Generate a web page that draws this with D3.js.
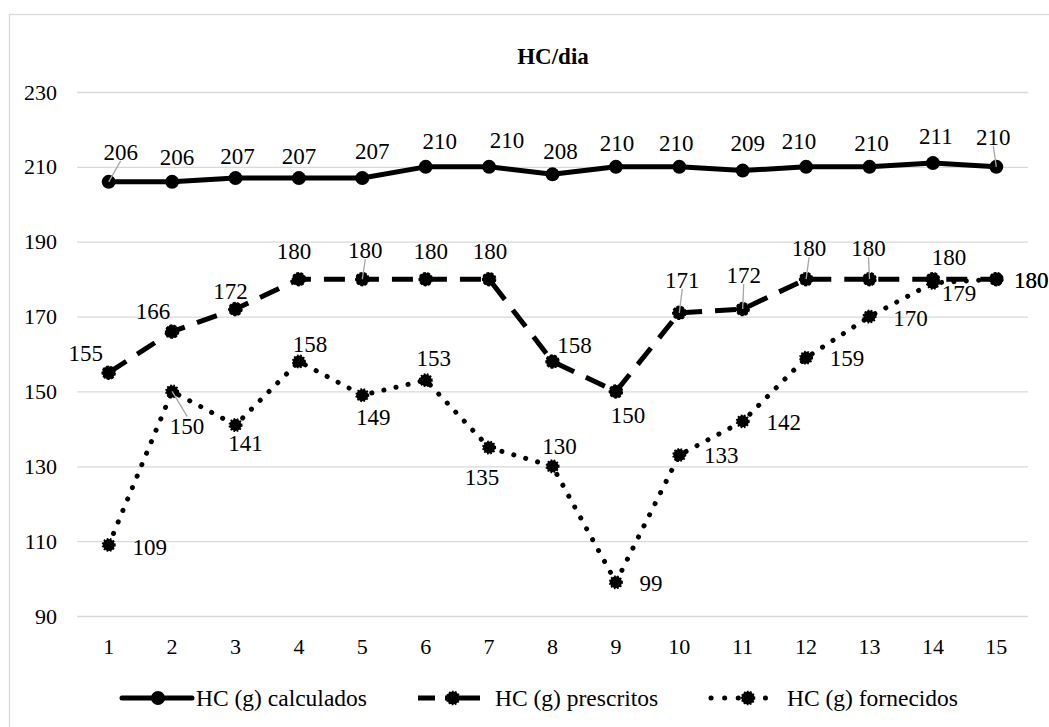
<!DOCTYPE html>
<html>
<head>
<meta charset="utf-8">
<script src="https://cdn.jsdelivr.net/npm/d3@7"></script>
<style>
  html, body { margin: 0; padding: 0; background: #fff; overflow: hidden; }
  svg { display: block; }
  svg text { font-family: "Liberation Serif", "DejaVu Serif", "Times New Roman", serif; }
</style>
</head>
<body>
<svg id="chart" width="1049" height="727"></svg>
<script>
// Data
const days = ['1', '2', '3', '4', '5', '6', '7', '8', '9', '10', '11', '12', '13', '14', '15'];
const calculados = [206, 206, 207, 207, 207, 210, 210, 208, 210, 210, 209, 210, 210, 211, 210];
const prescritos = [155, 166, 172, 180, 180, 180, 180, 158, 150, 171, 172, 180, 180, 180, 180];
const fornecidos = [109, 150, 141, 158, 149, 153, 135, 130, 99, 133, 142, 159, 170, 179, 180];
const yTicks = [90, 110, 130, 150, 170, 190, 210, 230];
const seriesNames = ['HC (g) calculados', 'HC (g) prescritos', 'HC (g) fornecidos'];

// Label placement (offset of label centre from its point), like Excel's manual positions
const calcLabelPos = [[12,-30],[5,-25],[2,-22],[0,-22],[10,-27],[14,-26],[18,-27],[8,-23],[1,-24],[-3,-24],[5,-28],[-7,-26],[2,-24],[3,-27],[-3,-30]];
const prescLabelPos = [[-23,-20],[-19,-21],[-5,-18],[-5,-28],[3,-29],[5,-28],[1,-28],[22,-17],[12,24],[3,-33],[1,-34],[3,-31],[-1,-31],[16,-22],[35,1]];
const fornLabelPos = [[41,2],[15,35],[10,18],[11,-18],[11,22],[8,-22],[-7,29],[7,-20],[35,1],[42,0],[41,1],[41,0],[41,1],[26,10],[35,1]];
const calcLeaders = [0, 14];
const prescLeaders = [4, 9, 10, 11, 12];
const fornLeaders = [1];

const FONT = '"Liberation Serif", "DejaVu Serif", "Times New Roman", serif';
const STYLE = {
    grid: '#d9d9d9',
    text: '#000',
    leader: '#a6a6a6'
};

const svg = d3.select('#chart');

// outer chart border (extends past the picture on the right and bottom)
svg.append('rect')
    .attr('x', 9.5).attr('y', 14.5)
    .attr('width', 1200).attr('height', 900)
    .attr('fill', 'none')
    .attr('stroke', STYLE.grid)
    .attr('stroke-width', 1.3);

// Scales
const x = d3.scaleBand().domain(days).range([77, 1028]);
const y = d3.scaleLinear().domain([90, 230]).range([616, 92]);
const cx = i => x(days[i]) + x.bandwidth() / 2;

// Title
svg.append('text')
    .attr('x', 553).attr('y', 64)
    .attr('text-anchor', 'middle')
    .attr('font-family', FONT)
    .attr('font-size', 23)
    .attr('font-weight', 'bold')
    .attr('fill', STYLE.text)
    .text('HC/dia');

// Gridlines + y axis
const yAxis = svg.append('g')
    .attr('transform', 'translate(77,0)')
    .call(d3.axisLeft(y).tickValues(yTicks).tickSize(-(1028 - 77)).tickPadding(20))
    .attr('font-family', FONT)
    .call(g => g.select('.domain').remove());
yAxis.selectAll('.tick line').attr('stroke', STYLE.grid).attr('stroke-width', 1.3);
yAxis.selectAll('.tick text')
    .attr('font-family', FONT)
    .attr('font-size', 22)
    .attr('fill', STYLE.text);

// x axis labels
const xAxis = svg.append('g')
    .attr('transform', 'translate(0,616)')
    .call(d3.axisBottom(x).tickSize(0).tickPadding(22))
    .attr('font-family', FONT)
    .call(g => g.select('.domain').remove());
xAxis.selectAll('.tick text')
    .attr('font-family', FONT)
    .attr('font-size', 22)
    .attr('fill', STYLE.text);

// Lines
const line = d3.line()
    .x((d, i) => cx(i))
    .y(d => y(d));

function drawSeries(values, opts) {
    svg.append('path')
        .datum(values)
        .attr('d', line)
        .attr('fill', 'none')
        .attr('stroke', '#000')
        .attr('stroke-width', 5)
        .attr('stroke-linejoin', 'round')
        .attr('stroke-linecap', opts.cap)
        .attr('stroke-dasharray', opts.dash);

    svg.append('g').selectAll('circle')
        .data(values)
        .join('circle')
        .attr('cx', (d, i) => cx(i))
        .attr('cy', d => y(d))
        .attr('r', opts.r)
        .attr('fill', '#000')
        .attr('stroke', '#000')
        .attr('stroke-width', opts.markerStroke)
        .attr('stroke-dasharray', opts.markerDash);
}

drawSeries(calculados, { cap: 'round', dash: null, r: 7, markerStroke: 0, markerDash: null });
drawSeries(prescritos, { cap: 'butt', dash: '21,13', r: 6.5, markerStroke: 1.5, markerDash: '3,1.5' });
drawSeries(fornecidos, { cap: 'round', dash: '0.1,12.3', r: 6, markerStroke: 2, markerDash: '1.6,1.6' });

// Data labels with leader lines
function drawLabels(values, pos, leaders) {
    const g = svg.append('g');
    leaders.forEach(i => {
        const px = cx(i), py = y(values[i]);
        const lx = px + pos[i][0], ly = py + pos[i][1];
        const ey = ly + (py > ly ? 9 : -10);
        g.append('line')
            .attr('x1', px).attr('y1', py)
            .attr('x2', lx).attr('y2', ey)
            .attr('stroke', STYLE.leader)
            .attr('stroke-width', 1.3);
    });
    g.selectAll('text')
        .data(values)
        .join('text')
        .attr('x', (d, i) => cx(i) + pos[i][0])
        .attr('y', (d, i) => y(d) + pos[i][1])
        .attr('dy', '0.35em')
        .attr('text-anchor', 'middle')
        .attr('font-family', FONT)
        .attr('font-size', 23)
        .attr('fill', STYLE.text)
        .text(d => d);
}

drawLabels(calculados, calcLabelPos, calcLeaders);
drawLabels(prescritos, prescLabelPos, prescLeaders);
drawLabels(fornecidos, fornLabelPos, fornLeaders);

// Legend
const legendItems = [
    { name: seriesNames[0], x1: 122, x2: 192, mx: 158, dash: null, cap: 'round', text: 196 },
    { name: seriesNames[1], x1: 418, x2: 480, mx: 453, dash: '17,10,40', cap: 'butt', text: 495 },
    { name: seriesNames[2], x1: 711, x2: 779, mx: 748, dash: '0.1,13.5', cap: 'round', text: 787 }
];
const legend = svg.append('g').attr('transform', 'translate(0,698)');
legendItems.forEach((d, k) => {
    legend.append('line')
        .attr('x1', d.x1).attr('x2', d.x2)
        .attr('stroke', '#000')
        .attr('stroke-width', 5)
        .attr('stroke-linecap', d.cap)
        .attr('stroke-dasharray', d.dash);
    legend.append('circle')
        .attr('cx', d.mx)
        .attr('r', k === 0 ? 7 : 6.5)
        .attr('fill', '#000')
        .attr('stroke', '#000')
        .attr('stroke-width', k === 0 ? 0 : 1.6)
        .attr('stroke-dasharray', k === 0 ? null : '1.6,1.6');
    legend.append('text')
        .attr('x', d.text)
        .attr('dy', '0.35em')
        .attr('font-family', FONT)
        .attr('font-size', 23.5)
        .attr('fill', STYLE.text)
        .text(d.name);
});
</script>
</body>
</html>
